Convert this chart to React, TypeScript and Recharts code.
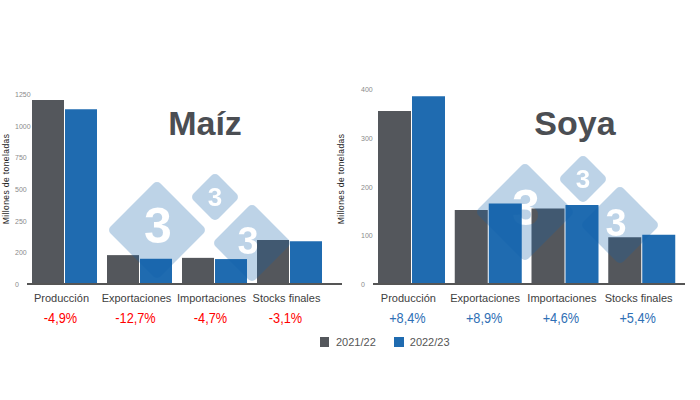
import React from "react";
import { BarChart, Bar, XAxis, YAxis, Customized } from "recharts";

// datos (millones de toneladas)
const categories = ["Producción", "Exportaciones", "Importaciones", "Stocks finales"];
const maizPrev = [1210, 190, 172, 290];
const maizCurr = [1150, 166, 164, 281];
const maizPct = ["-4,9%", "-12,7%", "-4,7%", "-3,1%"];
const soyaPrev = [355, 152, 155, 96];
const soyaCurr = [385, 165, 162, 101];
const soyaPct = ["+8,4%", "+8,9%", "+4,6%", "+5,4%"];
const seriesNames = ["2021/22", "2022/23"];

// el eje del maíz tiene etiquetas espaciadas de forma uniforme
const maizTicks = [0, 208.33, 416.67, 625, 833.33, 1041.67, 1250];
const maizTickLabels = ["0", "200", "250", "500", "750", "1000", "1250"];
const soyaTicks = [0, 100, 200, 300, 400];
const soyaTickLabels = ["0", "100", "200", "300", "400"];

const GRAY = "#54575c";
const BLUE = "#1f6bb0";
const FONT = "'Liberation Sans', Arial, sans-serif";

const maizData = categories.map((name, i) => ({ name, prev: maizPrev[i], curr: maizCurr[i] }));
const soyaData = categories.map((name, i) => ({ name, prev: soyaPrev[i], curr: soyaCurr[i] }));

function YTick(props: any) {
  const { y, payload, labels } = props;
  return (
    <text x={props.tx} y={y + 3} textAnchor="start" fontSize={7} fill="#8a8a8a" fontFamily={FONT}>
      {labels[payload.index]}
    </text>
  );
}

function XTick(props: any) {
  const { x, y, payload, pcts, pctColor } = props;
  const cx = x - 4;
  return (
    <g>
      <text x={cx + 1} y={y + 10} textAnchor="middle" fontSize={11} fill="#404040" fontFamily={FONT}>
        {payload.value}
      </text>
      {/* porcentaje en letra estrecha */}
      <g transform={`translate(${cx},${y + 31}) scale(0.85,1)`}>
        <text x={0} y={0} textAnchor="middle" fontSize={15} fill={pctColor} fontFamily={FONT}>
          {pcts[payload.index]}
        </text>
      </g>
    </g>
  );
}

function Decor({ title, titleX }: { title: string; titleX: number }) {
  return (
    <g>
      <text
        x={titleX}
        y={135}
        textAnchor="middle"
        fontSize={34}
        fontWeight="bold"
        fill="#4b4e53"
        fontFamily={FONT}
      >
        {title}
      </text>
      <text
        transform="translate(9,179) rotate(-90)"
        textAnchor="middle"
        fontSize={8.5}
        letterSpacing={0.4}
        fill="#222"
        fontFamily={FONT}
      >
        Millones de toneladas
      </text>
    </g>
  );
}

function Panel(props: any) {
  const { data, ticks, tickLabels, domain, pcts, pctColor, title, titleX, width, yWidth, top, barSize, padRight, marginRight } = props;
  return (
    <BarChart
      width={width}
      height={400}
      data={data}
      margin={{ top, right: marginRight, bottom: 56, left: 0 }}
      barGap={1}
      barSize={barSize}
    >
      <YAxis
        width={yWidth}
        domain={domain}
        ticks={ticks}
        interval={0}
        axisLine={false}
        tickLine={false}
        tick={(p: any) => <YTick {...p} tx={yWidth - 12} labels={tickLabels} />}
      />
      <XAxis
        dataKey="name"
        height={60}
        interval={0}
        tickLine={false}
        axisLine={{ stroke: "#555", strokeWidth: 2 }}
        padding={{ left: 0, right: padRight }}
        tick={(p: any) => <XTick {...p} pcts={pcts} pctColor={pctColor} />}
      />
      <Bar dataKey="prev" name={seriesNames[0]} fill={GRAY} isAnimationActive={false} />
      <Bar dataKey="curr" name={seriesNames[1]} fill={BLUE} isAnimationActive={false} />
      <Customized component={() => <Decor title={title} titleX={titleX} />} />
    </BarChart>
  );
}

// marca de agua "333" (rombos translúcidos)
function Logo({ dx, dy, id }: { dx: number; dy: number; id: string }) {
  const diamonds = [
    { cx: 157, cy: 230, h: 50, tx: 158, ty: 243, fs: 50 },
    { cx: 215, cy: 197, h: 25, tx: 215, ty: 206, fs: 26 },
    { cx: 252, cy: 243, h: 40, tx: 248, ty: 254, fs: 38 },
  ];
  return (
    <g transform={`translate(${dx},${dy})`}>
      <mask id={id}>
        {diamonds.map((d, i) => {
          const s = d.h * Math.SQRT2;
          return (
            <rect
              key={"r" + i}
              x={d.cx - s / 2}
              y={d.cy - s / 2}
              width={s}
              height={s}
              rx={5}
              fill="white"
              transform={`rotate(45 ${d.cx} ${d.cy})`}
            />
          );
        })}
        {diamonds.map((d, i) => (
          <text
            key={"t" + i}
            x={d.tx}
            y={d.ty}
            textAnchor="middle"
            fontSize={d.fs}
            fontWeight="bold"
            fill="black"
            fontFamily={FONT}
          >
            3
          </text>
        ))}
      </mask>
      <rect x={90} y={140} width={220} height={160} fill="#0f60aa" opacity={0.27} mask={`url(#${id})`} />
    </g>
  );
}

export default function App() {
  return (
    <div
      style={{
        position: "absolute",
        left: 0,
        top: 0,
        width: 700,
        height: 400,
        background: "#fff",
        fontFamily: FONT,
      }}
    >
      <div style={{ position: "absolute", left: 0, top: 0 }}>
        <Panel
          data={maizData}
          ticks={maizTicks}
          tickLabels={maizTickLabels}
          domain={[0, 1250]}
          pcts={maizPct}
          pctColor="#ff0000"
          title="Maíz"
          titleX={205}
          width={345}
          yWidth={27}
          top={94}
          barSize={32}
          padRight={15}
          marginRight={3}
        />
      </div>
      <div style={{ position: "absolute", left: 335, top: 0 }}>
        <Panel
          data={soyaData}
          ticks={soyaTicks}
          tickLabels={soyaTickLabels}
          domain={[0, 400]}
          pcts={soyaPct}
          pctColor="#2f6fb5"
          title="Soya"
          titleX={240}
          width={360}
          yWidth={38}
          top={89}
          barSize={33}
          padRight={5}
          marginRight={10}
        />
      </div>
      <svg
        width={700}
        height={400}
        style={{ position: "absolute", left: 0, top: 0, pointerEvents: "none" }}
      >
        <Logo dx={0} dy={0} id="wm1" />
        <Logo dx={368} dy={-18} id="wm2" />
      </svg>
      <div
        style={{
          position: "absolute",
          left: 320,
          top: 336,
          display: "flex",
          alignItems: "center",
          fontSize: 11,
          color: "#555",
        }}
      >
        <span style={{ width: 9, height: 10, background: GRAY, display: "inline-block", marginRight: 7 }} />
        <span style={{ marginRight: 18 }}>{seriesNames[0]}</span>
        <span style={{ width: 10, height: 10, background: BLUE, display: "inline-block", marginRight: 6 }} />
        <span>{seriesNames[1]}</span>
      </div>
    </div>
  );
}
